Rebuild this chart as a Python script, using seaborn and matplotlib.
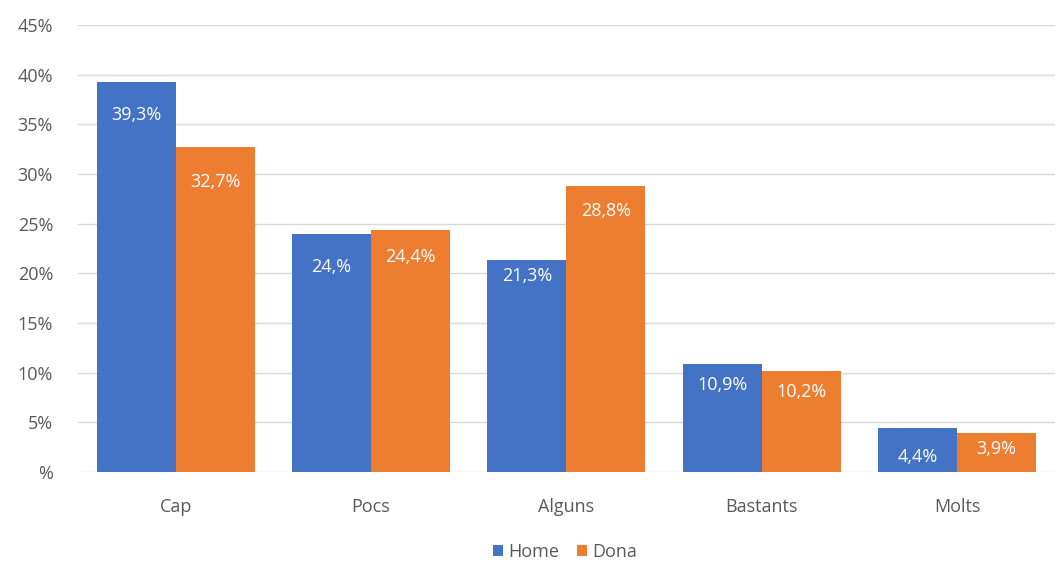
import matplotlib
matplotlib.use("Agg")
import matplotlib.pyplot as plt
import seaborn as sns
import pandas as pd
from matplotlib.patches import Patch

categories = ["Cap", "Pocs", "Alguns", "Bastants", "Molts"]
home = [39.3, 24.0, 21.3, 10.9, 4.4]
dona = [32.7, 24.4, 28.8, 10.2, 3.9]
home_labels = ["39,3%", "24,%", "21,3%", "10,9%", "4,4%"]
dona_labels = ["32,7%", "24,4%", "28,8%", "10,2%", "3,9%"]
yticks = [0, 5, 10, 15, 20, 25, 30, 35, 40, 45]
ytick_labels = ["%", "5%", "10%", "15%", "20%", "25%", "30%", "35%", "40%", "45%"]
series = ["Home", "Dona"]

# style: label offsets (points below bar top)
home_off = [24, 24, 11, 15, 21]
dona_off = [25, 20, 18, 15, 11]

df = pd.DataFrame({
    "cat": categories * 2,
    "val": home + dona,
    "serie": ["Home"] * 5 + ["Dona"] * 5,
})

sns.set_theme(style="white")
plt.rcParams["font.family"] = ["Open Sans", "DejaVu Sans"]

fig = plt.figure(figsize=(10.6, 5.63), dpi=100)
ax = fig.add_axes([0.0736, 0.1616, 0.9214, 0.794])
colors = {"Home": "#4472C4", "Dona": "#ED7D31"}
sns.barplot(data=df, x="cat", y="val", hue="serie", palette=colors,
            width=0.81, ax=ax, legend=False, saturation=1, zorder=3,
            linewidth=0, gap=0)

ax.set_ylim(0, 45)
ax.set_xlim(-0.5, 4.5)
ax.set_yticks(yticks)
ax.set_yticklabels(ytick_labels)
ax.yaxis.grid(True, color="#D9D9D9", linewidth=1, zorder=0)
ax.set_axisbelow(True)
for s in ax.spines.values():
    s.set_visible(False)
ax.set_xlabel("")
ax.set_ylabel("")
ax.tick_params(axis="both", colors="#595959", labelsize=13, length=0)
ax.tick_params(axis="x", pad=19)
ax.tick_params(axis="y", pad=18)
for lab in ax.get_yticklabels() + ax.get_xticklabels():
    lab.set_color("#595959")

conts = ax.containers
for cont, labels, offs in [(conts[0], home_labels, home_off), (conts[1], dona_labels, dona_off)]:
    for bar, lab, off in zip(cont, labels, offs):
        x = bar.get_x() + bar.get_width() / 2
        y = bar.get_height()
        ax.annotate(lab, (x, y), xytext=(0, -off), textcoords="offset points",
                    ha="center", va="center", color="white", fontsize=13, zorder=5)

handles = [Patch(facecolor=colors[s], edgecolor="none") for s in series]
fig.legend(handles, series, loc="lower center", ncol=2, frameon=False,
           bbox_to_anchor=(0.533, -0.025), fontsize=13, handlelength=0.55,
           handleheight=0.55, handletextpad=0.3, columnspacing=1.0,
           labelcolor="#595959")

fig.savefig("out.png", dpi=100)
